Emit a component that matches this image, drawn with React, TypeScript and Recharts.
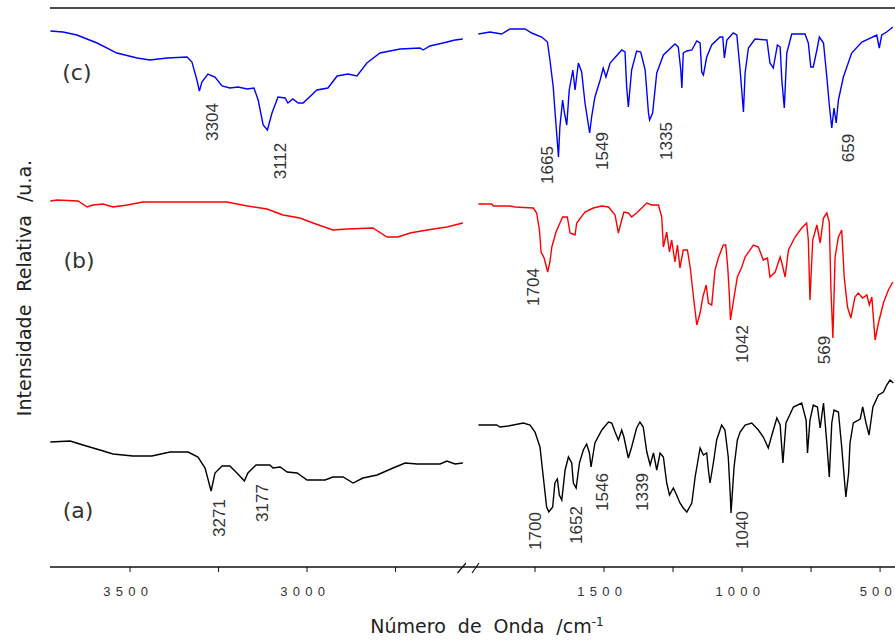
import React from 'react';
import { LineChart, Line, XAxis, YAxis, ReferenceLine, ReferenceDot } from 'recharts';

// spectra as [wavenumber cm-1, relative intensity a.u.]
// (c) blue
const cHigh = [
  [3725, 536], [3689, 535], [3650, 532], [3593, 524], [3537, 514], [3480, 509], [3444, 507],
  [3395, 509], [3339, 510], [3325, 505], [3311, 487], [3304, 476], [3297, 485], [3280, 493],
  [3260, 490], [3240, 481], [3218, 479], [3195, 480], [3169, 478], [3150, 479], [3138, 467],
  [3124, 442], [3112, 437], [3099, 454], [3082, 470], [3062, 469], [3054, 464], [3040, 468],
  [3025, 464], [3011, 464], [2972, 477], [2941, 479], [2915, 491], [2884, 493], [2859, 491],
  [2831, 504], [2794, 514], [2737, 518], [2681, 519], [2672, 517], [2653, 521], [2616, 524],
  [2582, 527], [2560, 528],
];
const cLow = [
  [1955, 533], [1913, 535], [1871, 533], [1841, 538], [1786, 538], [1762, 534], [1726, 530],
  [1705, 525], [1696, 507], [1684, 480], [1678, 457], [1665, 410], [1660, 440], [1650, 467],
  [1644, 455], [1635, 442], [1626, 477], [1613, 497], [1605, 477], [1593, 504], [1581, 495],
  [1569, 464], [1552, 434], [1545, 450], [1533, 470], [1514, 487], [1503, 499], [1493, 490],
  [1478, 504], [1436, 517], [1424, 515], [1418, 480], [1412, 460], [1400, 497], [1382, 516],
  [1367, 515], [1351, 497], [1339, 454], [1335, 447], [1324, 454], [1309, 494], [1285, 512],
  [1243, 523], [1231, 520], [1222, 497], [1218, 479], [1213, 514], [1200, 516], [1182, 517],
  [1164, 526], [1152, 524], [1146, 495], [1140, 492], [1128, 510], [1110, 522], [1080, 530],
  [1070, 530], [1064, 509], [1055, 527], [1032, 534], [1019, 532], [1007, 497], [995, 455],
  [989, 494], [977, 519], [953, 528], [910, 527], [899, 504], [887, 499], [872, 522],
  [862, 520], [856, 487], [847, 459], [838, 514], [820, 533], [772, 533], [760, 524],
  [751, 500], [742, 500], [729, 517], [720, 530], [705, 524], [693, 490], [684, 462],
  [675, 439], [667, 459], [659, 444], [651, 467], [633, 490], [603, 514], [566, 525],
  [512, 532], [503, 519], [494, 532], [476, 535], [454, 540],
];

// (b) red
const bHigh = [
  [3725, 366], [3706, 367], [3647, 366], [3621, 360], [3605, 362], [3576, 363], [3548, 360],
  [3508, 362], [3463, 365], [3226, 365], [3169, 361], [3113, 358], [3068, 352], [3020, 349],
  [2983, 344], [2927, 337], [2887, 338], [2814, 339], [2774, 330], [2743, 330], [2709, 334],
  [2661, 337], [2605, 340], [2560, 344],
];
const bLow = [
  [1955, 363], [1907, 363], [1901, 361], [1841, 361], [1822, 360], [1756, 359], [1744, 354],
  [1734, 337], [1728, 315], [1717, 309], [1704, 295], [1696, 305], [1689, 320], [1674, 335],
  [1650, 350], [1633, 350], [1623, 334], [1605, 332], [1599, 344], [1569, 355], [1539, 359],
  [1508, 361], [1484, 360], [1460, 352], [1448, 334], [1436, 347], [1428, 355], [1412, 354],
  [1400, 350], [1382, 354], [1345, 364], [1327, 362], [1303, 362], [1291, 350], [1285, 320],
  [1273, 335], [1263, 315], [1255, 327], [1243, 305], [1234, 322], [1225, 299], [1213, 317],
  [1198, 317], [1188, 300], [1176, 270], [1164, 242], [1152, 254], [1142, 270], [1130, 282],
  [1122, 264], [1110, 262], [1098, 297], [1086, 309], [1068, 322], [1059, 322], [1052, 300],
  [1046, 272], [1042, 247], [1029, 270], [1017, 290], [1001, 300], [989, 310], [959, 322],
  [941, 320], [923, 307], [908, 309], [899, 290], [880, 295], [862, 310], [856, 304],
  [844, 290], [832, 317], [808, 330], [784, 339], [766, 344], [760, 327], [754, 267],
  [744, 327], [729, 342], [717, 324], [705, 349], [693, 354], [684, 345], [678, 277],
  [671, 229], [663, 310], [651, 330], [639, 337], [630, 290], [618, 260], [606, 249],
  [591, 270], [579, 274], [563, 269], [548, 272], [539, 262], [530, 270], [518, 227],
  [506, 244], [488, 264], [470, 277], [454, 285],
];

// (a) black
const aHigh = [
  [3725, 125], [3669, 126], [3633, 122], [3585, 117], [3548, 113], [3492, 111], [3438, 111],
  [3387, 115], [3336, 115], [3308, 110], [3288, 99], [3271, 76], [3260, 94], [3240, 101],
  [3218, 101], [3198, 94], [3177, 86], [3167, 94], [3144, 102], [3105, 102], [3096, 99],
  [3076, 100], [3056, 95], [3028, 94], [3000, 87], [2949, 87], [2927, 90], [2898, 90],
  [2870, 84], [2842, 89], [2802, 92], [2757, 99], [2723, 104], [2689, 103], [2624, 103],
  [2605, 106], [2582, 103], [2560, 104],
];
const aLow = [
  [1955, 142], [1889, 142], [1877, 140], [1847, 141], [1792, 144], [1768, 142], [1750, 135],
  [1732, 120], [1720, 90], [1708, 60], [1700, 55], [1686, 60], [1678, 84], [1669, 88],
  [1662, 72], [1653, 67], [1641, 97], [1629, 110], [1617, 104], [1611, 84], [1601, 79],
  [1589, 104], [1575, 117], [1563, 123], [1553, 114], [1547, 100], [1533, 124], [1508, 137],
  [1484, 145], [1472, 144], [1460, 135], [1448, 127], [1436, 137], [1428, 130], [1412, 109],
  [1400, 120], [1382, 139], [1370, 145], [1358, 140], [1345, 115], [1333, 102], [1321, 114],
  [1309, 97], [1297, 114], [1285, 110], [1273, 84], [1263, 72], [1249, 79], [1237, 72],
  [1225, 64], [1213, 59], [1200, 55], [1182, 64], [1170, 90], [1152, 119], [1140, 112],
  [1128, 114], [1122, 97], [1116, 84], [1104, 104], [1092, 127], [1074, 142], [1062, 137],
  [1050, 110], [1043, 74], [1040, 54], [1029, 100], [1017, 127], [1007, 135], [989, 142],
  [965, 144], [941, 137], [923, 130], [905, 119], [892, 132], [874, 149], [862, 142],
  [852, 104], [841, 144], [814, 160], [784, 164], [768, 147], [763, 114], [754, 147],
  [742, 162], [727, 160], [717, 139], [705, 164], [693, 124], [684, 90], [675, 144],
  [667, 157], [651, 155], [639, 120], [624, 70], [614, 94], [609, 124], [597, 144],
  [572, 148], [563, 160], [551, 144], [540, 132], [526, 160], [506, 172], [488, 175],
  [476, 182], [464, 187], [452, 184],
];

const leftTicks = [3500, 3250, 3000, 2750];
const leftTickLabels = [3500, 3000];
const rightTicks = [1750, 1500, 1250, 1000, 750, 500];
const rightTickLabels = [1500, 1000, 500];

const leftPeaks = [
  { text: '3304', wn: 3268, v: 445 },
  { text: '3112', wn: 3076, v: 406 },
  { text: '3271', wn: 3246, v: 49 },
  { text: '3177', wn: 3127, v: 64 },
];
const rightPeaks = [
  { text: '1665', wn: 1703, v: 402 },
  { text: '1549', wn: 1504, v: 416 },
  { text: '1335', wn: 1272, v: 426 },
  { text: '659', wn: 616, v: 419 },
  { text: '1704', wn: 1754, v: 280 },
  { text: '1042', wn: 1000, v: 223 },
  { text: '569', wn: 703, v: 217 },
  { text: '1700', wn: 1750, v: 36 },
  { text: '1652', wn: 1598, v: 42 },
  { text: '1546', wn: 1507, v: 75 },
  { text: '1339', wn: 1359, v: 75 },
  { text: '1040', wn: 1000, v: 37 },
];
const sampleNames = [
  { text: '(c)', wn: 3650, v: 495 },
  { text: '(b)', wn: 3644, v: 307 },
  { text: '(a)', wn: 3647, v: 57 },
];

const Y_MAX = 559;
const toRows = (pts: number[][]) => pts.map(([wn, v]) => ({ wn, v }));
const spaced = (n: number) => String(n).split('').join(' ');

const tickStyle = { fontSize: 13, fill: '#333', fontFamily: 'Liberation Sans, Arial, sans-serif', letterSpacing: 0.8, dx: -4 };
const titleFont = '"DejaVu Sans", sans-serif';

const peakShape = (text: string) => (p: any) => (
  <text
    x={p.cx}
    y={p.cy}
    transform={`rotate(-90 ${p.cx} ${p.cy})`}
    textAnchor="middle"
    dominantBaseline="central"
    fontSize={17}
    fill="#333"
    fontFamily="Liberation Sans, Arial, sans-serif"
  >
    {text}
  </text>
);

const nameShape = (text: string) => (p: any) => (
  <text x={p.cx} y={p.cy} textAnchor="middle" dominantBaseline="central" fontSize={22} fill="#333" fontFamily={titleFont}>
    {text}
  </text>
);

const lineProps = { dataKey: 'v', dot: false, strokeWidth: 1.4, type: 'linear' as const, isAnimationActive: false };

export default function App() {
  return (
    <div style={{ position: 'absolute', left: 0, top: 0, width: 895, height: 642, overflow: 'hidden', background: '#fff' }}>
      {/* high wavenumber side */}
      <div style={{ position: 'absolute', left: 0, top: 0 }}>
        <LineChart width={466} height={642} margin={{ top: 8, right: 0, left: 50, bottom: 45 }}>
          <XAxis
            type="number"
            dataKey="wn"
            domain={[2551, 3726]}
            reversed
            allowDataOverflow
            ticks={leftTicks}
            tickFormatter={(t: number) => (leftTickLabels.includes(t) ? spaced(t) : '')}
            height={30}
            tickSize={5}
            tickMargin={15}
            tick={tickStyle}
            axisLine={{ stroke: '#111', strokeWidth: 1.5 }}
            tickLine={{ stroke: '#111' }}
          />
          <YAxis type="number" domain={[0, Y_MAX]} allowDataOverflow width={0} tick={false} tickLine={false} axisLine={{ stroke: '#111', strokeWidth: 1.5 }} />
          <ReferenceLine y={Y_MAX} stroke="#111" strokeWidth={1.5} />
          <Line data={toRows(cHigh)} stroke="#0000ff" {...lineProps} />
          <Line data={toRows(bHigh)} stroke="#ff0000" {...lineProps} />
          <Line data={toRows(aHigh)} stroke="#000000" {...lineProps} />
          {leftPeaks.map((p) => (
            <ReferenceDot key={p.text} x={p.wn} y={p.v} r={0} shape={peakShape(p.text)} />
          ))}
          {sampleNames.map((p) => (
            <ReferenceDot key={p.text} x={p.wn} y={p.v} r={0} shape={nameShape(p.text)} />
          ))}
          <ReferenceLine segment={[{ x: 2575, y: -6 }, { x: 2551, y: 4 }]} stroke="#111" strokeWidth={1.2} ifOverflow="visible" />
        </LineChart>
      </div>

      {/* fingerprint side */}
      <div style={{ position: 'absolute', left: 440, top: 0 }}>
        <LineChart width={460} height={642} margin={{ top: 8, right: 5, left: 26, bottom: 45 }}>
          <XAxis
            type="number"
            dataKey="wn"
            domain={[446, 2000]}
            reversed
            allowDataOverflow
            ticks={rightTicks}
            tickFormatter={(t: number) => (rightTickLabels.includes(t) ? spaced(t) : '')}
            height={30}
            tickSize={5}
            tickMargin={15}
            tick={tickStyle}
            axisLine={{ stroke: '#111', strokeWidth: 1.5 }}
            tickLine={{ stroke: '#111' }}
          />
          <YAxis type="number" domain={[0, Y_MAX]} allowDataOverflow hide />
          <ReferenceLine y={Y_MAX} stroke="#111" strokeWidth={1.5} />
          <Line data={toRows(cLow)} stroke="#0000ff" {...lineProps} />
          <Line data={toRows(bLow)} stroke="#ff0000" {...lineProps} />
          <Line data={toRows(aLow)} stroke="#000000" {...lineProps} />
          {rightPeaks.map((p) => (
            <ReferenceDot key={p.text} x={p.wn} y={p.v} r={0} shape={peakShape(p.text)} />
          ))}
          <ReferenceLine segment={[{ x: 1978, y: -6 }, { x: 1953, y: 4 }]} stroke="#111" strokeWidth={1.2} ifOverflow="visible" />
        </LineChart>
      </div>

      <div
        style={{
          position: 'absolute',
          left: 24,
          top: 288,
          transform: 'translate(-50%, -50%) rotate(-90deg)',
          whiteSpace: 'nowrap',
          fontFamily: titleFont,
          fontSize: 19,
          wordSpacing: 7,
          color: '#222',
        }}
      >
        Intensidade Relativa /u.a.
      </div>
      <div
        style={{
          position: 'absolute',
          left: 487,
          top: 626,
          transform: 'translate(-50%, -50%)',
          whiteSpace: 'nowrap',
          fontFamily: titleFont,
          fontSize: 19,
          wordSpacing: 6,
          color: '#222',
        }}
      >
        Número de Onda /cm<sup style={{ fontSize: 12 }}>-1</sup>
      </div>
    </div>
  );
}
